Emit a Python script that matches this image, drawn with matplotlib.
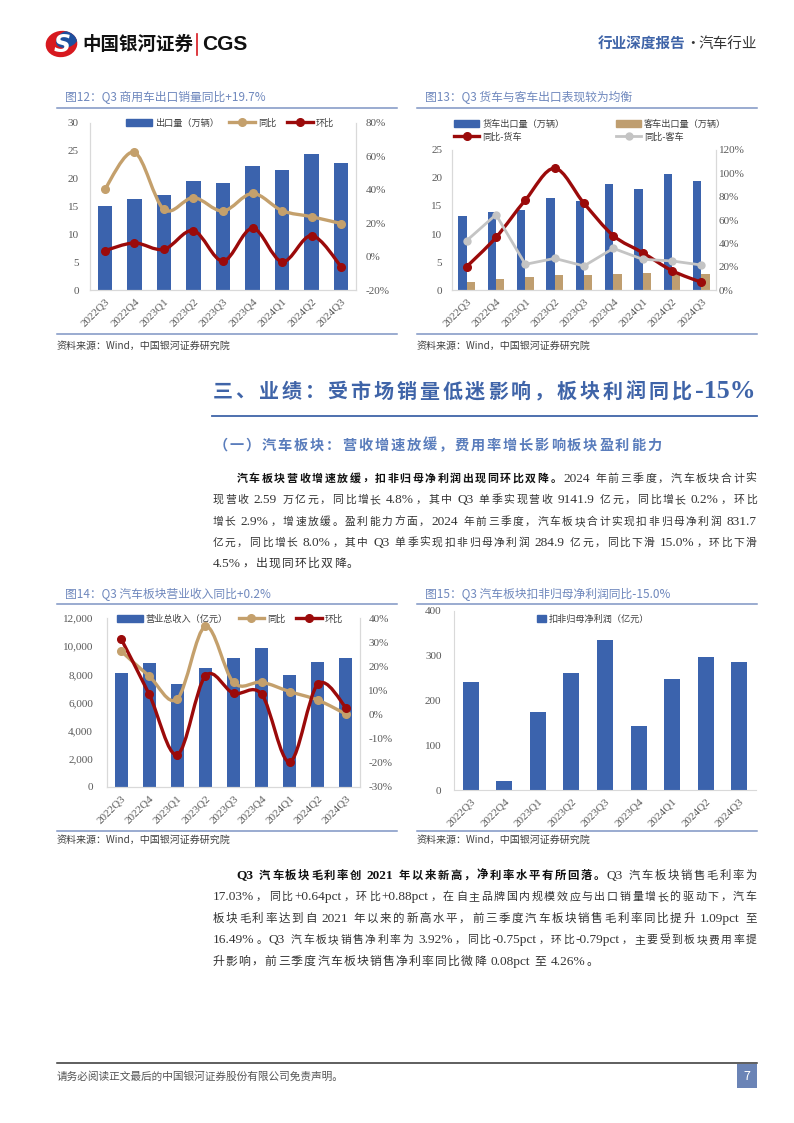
import matplotlib
matplotlib.use('Agg')
import matplotlib.pyplot as plt
from matplotlib.path import Path
from matplotlib.patches import PathPatch, Patch, Rectangle, Ellipse
from matplotlib.lines import Line2D
from matplotlib.ticker import FuncFormatter

plt.rcParams['font.family'] = ['Noto Sans CJK SC', 'DejaVu Sans']

## ---------------------------------------------------------------------------
## Data
## ---------------------------------------------------------------------------
quarters = ['2022Q3', '2022Q4', '2023Q1', '2023Q2', '2023Q3',
            '2023Q4', '2024Q1', '2024Q2', '2024Q3']

# Fig.12 commercial vehicle exports (10k units) and growth (%)
cv_export = [15.0, 16.3, 17.0, 19.6, 19.1, 22.3, 21.6, 24.3, 22.8]
cv_yoy = [40.2, 62.3, 28.2, 35.2, 27.2, 37.7, 27.4, 23.8, 19.7]
cv_qoq = [3.5, 8.1, 4.3, 15.5, -2.7, 16.9, -3.1, 12.5, -6.1]

# Fig.13 truck / bus exports (10k units) and yoy (%)
truck_export = [13.2, 13.9, 14.3, 16.5, 15.9, 19.0, 18.1, 20.7, 19.5]
bus_export = [1.5, 2.0, 2.3, 2.7, 2.7, 2.9, 3.1, 3.0, 2.9]
truck_yoy = [20.0, 45.1, 77.1, 104.3, 74.3, 46.6, 32.0, 16.6, 6.6]
bus_yoy = [42.3, 64.6, 22.0, 27.1, 20.6, 35.7, 26.3, 24.9, 21.4]

# Fig.14 sector revenue (100m yuan) and growth (%)
revenue = [8100, 8780, 7300, 8450, 9140, 9900, 7960, 8884, 9142]
rev_yoy = [26.3, 15.9, 6.5, 36.5, 13.3, 13.4, 9.5, 6.0, 0.2]
rev_qoq = [31.4, 8.4, -16.6, 16.0, 8.8, 8.4, -19.6, 12.6, 2.9]

# Fig.15 net profit attributable, excl. non-recurring (100m yuan)
profit = [241, 19, 175, 261, 336, 143, 249, 298, 285]

## ---------------------------------------------------------------------------
## Styles
## ---------------------------------------------------------------------------
W, H = 794, 1123
BLUE = '#3b63ad'
TAN = '#c4a06c'
TAN_BAR = '#bf9e70'
RED = '#9b0a0a'
GREY_LINE = '#c4c4c4'
TITLE_C = '#6f88bd'
HEAD_C = '#3f64a8'
SUB_C = '#5a7dbc'
TICK_C = '#595959'
SPINE_C = '#d9d9d9'
TEXT_C = '#333333'
NUM_FONT = ['Liberation Serif', 'Noto Sans CJK SC']
PUNCT = '，。：、；）'

fig = plt.figure(figsize=(7.94, 11.23), dpi=100)
fig.patch.set_facecolor('white')
renderer = fig.canvas.get_renderer()


def fx(x):
    return x / W


def fy(y):
    return 1 - y / H


def hline(x0, x1, y, color, lw=1.0):
    fig.add_artist(Line2D([fx(x0), fx(x1)], [fy(y), fy(y)], color=color, lw=lw))


def draw_line(x0, x1, yc, segs, size, justify=True, ascii_scale=1.05):
    """ Lay out a line of mixed CJK / latin text on an em grid, optionally justified """
    em = size * 100 / 72.
    glyph = size * 0.93
    items = []
    for text, weight, color in segs:
        buf = ''
        for ch in text + '\0':
            if ch != '\0' and ch.isascii() and ch != ' ':
                buf += ch
                continue
            if buf:
                t = fig.text(0, 0, buf, fontsize=size * ascii_scale, fontweight=weight,
                             color=color, family=NUM_FONT)
                items.append(['a', t, t.get_window_extent(renderer).width + 0.12 * em])
                buf = ''
            if ch == '\0':
                break
            if ch == ' ':
                items.append(['s', None, 0.2 * em])
            else:
                t = fig.text(0, 0, ch, fontsize=glyph, fontweight=weight, color=color)
                items.append(['p' if ch in PUNCT else 'c', t, em])
    n = len(items)
    total = sum(i[2] for i in items)
    if justify:
        # shrink the CJK cells uniformly when the line would be overfull
        cjk = sum(i[2] for i in items if i[0] in 'cp')
        need = (x1 - x0) - 0.8 * (n - 1)
        if total > need and cjk:
            k = (need - (total - cjk)) / cjk
            for i in items:
                if i[0] in 'cp':
                    i[2] *= k
                    i[1].set_fontsize(glyph * k)
            total = sum(i[2] for i in items)
        gap = (x1 - x0 - total) / (n - 1)
    else:
        gap = 0.3
    base = yc + 0.36 * em
    x = x0
    for kind, t, w in items:
        if t is not None:
            ch = t.get_text()
            if kind == 'a':
                t.set_ha('center'); pos = x + w / 2
            elif kind == 'p':
                t.set_ha('left'); pos = x + 0.03 * em
            elif ch == '（':
                t.set_ha('right'); pos = x + w - 0.03 * em
            else:
                t.set_ha('center'); pos = x + w / 2
            t.set_va('baseline')
            t.set_position((fx(pos), fy(base)))
        x += w + gap


def catmull(xs, ys):
    pts = list(zip(xs, ys))
    n = len(pts)
    verts = [pts[0]]
    codes = [Path.MOVETO]
    for i in range(n - 1):
        p0 = pts[i - 1] if i > 0 else pts[i]
        p1, p2 = pts[i], pts[i + 1]
        p3 = pts[i + 2] if i + 2 < n else pts[i + 1]
        c1 = (p1[0] + (p2[0] - p0[0]) / 6., p1[1] + (p2[1] - p0[1]) / 6.)
        c2 = (p2[0] - (p3[0] - p1[0]) / 6., p2[1] - (p3[1] - p1[1]) / 6.)
        verts += [c1, c2, p2]
        codes += [Path.CURVE4] * 3
    return Path(verts, codes)


def series_line(ax, xs, ys, color, lw=2.4, ms=5.5, smooth=True):
    if smooth:
        ax.add_patch(PathPatch(catmull(xs, ys), fc='none', ec=color, lw=lw,
                               capstyle='round', joinstyle='round', zorder=3))
    else:
        ax.plot(xs, ys, color=color, lw=lw, zorder=3)
    ax.plot(xs, ys, 'o', color=color, ms=ms, zorder=4)
    return Line2D([], [], color=color, lw=lw, marker='o', ms=ms)


def make_axes(box):
    l, r, t, b = box
    return fig.add_axes([fx(l), fy(b), (r - l) / W, (b - t) / H])


def style_axes(ax, lpad):
    for s in ax.spines.values():
        s.set_color(SPINE_C)
        s.set_linewidth(0.8)
    ax.spines['top'].set_visible(False)
    ax.tick_params(length=0, labelsize=8, labelcolor=TICK_C)
    ax.tick_params(axis='y', pad=lpad)
    for lab in ax.get_yticklabels():
        lab.set_family(NUM_FONT)
    ax.set_xlim(-0.5, len(quarters) - 0.5)
    ax.set_xticks(range(len(quarters)))
    ax.set_xticklabels(quarters, rotation=45, ha='right', va='top',
                       rotation_mode='anchor', family=NUM_FONT, fontsize=8,
                       color=TICK_C)
    ax.tick_params(axis='x', pad=5)


def pct_axis(ax, lo, hi, step, rpad):
    ax.set_ylim(lo, hi)
    ax.set_yticks(range(lo, hi + 1, step))
    ax.yaxis.set_major_formatter(FuncFormatter(lambda v, p: '{:.0f}%'.format(v)))
    for s in ax.spines.values():
        s.set_color(SPINE_C)
        s.set_linewidth(0.8)
    ax.spines['top'].set_visible(False)
    ax.tick_params(length=0, labelsize=8, labelcolor=TICK_C, pad=rpad)
    for lab in ax.get_yticklabels():
        lab.set_family(NUM_FONT)


def chart_frame(x0, x1, ty, tly, sly, sy, title):
    fig.text(fx(x0 + 8), fy(ty), title, fontsize=8.5, color=TITLE_C, va='center')
    hline(x0, x1, tly, '#7f95c3', 1.1)
    hline(x0, x1, sly, '#7f95c3', 1.1)
    fig.text(fx(x0), fy(sy), '资料来源：Wind，中国银河证券研究院', fontsize=7.2,
             color='#404040', style='italic', va='center')


def put_legend(ax, handles, labels, cx, cy, ncol, **kw):
    opts = dict(loc='center', bbox_to_anchor=(fx(cx), fy(cy)),
                bbox_transform=fig.transFigure, ncol=ncol, frameon=False,
                prop={'size': 6.6}, handlelength=2.8, handleheight=0.8,
                handletextpad=0.3, columnspacing=1.2, borderpad=0, labelspacing=0.5)
    opts.update(kw)
    leg = ax.legend(handles, labels, **opts)
    for t in leg.get_texts():
        t.set_color('#404040')
    return leg


x = list(range(len(quarters)))

##-------------------------------------------------------------------------
## Header / footer
##-------------------------------------------------------------------------
ax_logo = fig.add_axes([fx(45), fy(58), 33 / W, 28 / H])
ax_logo.set_xlim(-1, 1)
ax_logo.set_ylim(-1, 1)
ax_logo.axis('off')
red_el = Ellipse((0, 0), 1.95, 1.85, angle=35, fc='#d7191f', ec='none')
ax_logo.add_patch(red_el)
blue_el = Ellipse((0.35, 0.35), 1.5, 1.1, angle=35, fc='#1d4f9e', ec='none')
ax_logo.add_patch(blue_el)
blue_el.set_clip_path(red_el)
ax_logo.text(0.02, -0.08, 'S', color='white', fontsize=17, fontweight='bold',
             style='italic', ha='center', va='center', family='DejaVu Sans')

fig.text(fx(82), fy(44), '中国银河证券', fontsize=13.3, fontweight='bold',
         color='#111111', va='center')
fig.add_artist(Line2D([fx(197), fx(197)], [fy(34), fy(55)], color='#d7191f', lw=1.2))
fig.text(fx(202), fy(44.5), 'CGS', fontsize=15, fontweight='bold', color='#111111',
         va='center', family='Liberation Sans')

t_ind = fig.text(fx(757), fy(44), '汽车行业', fontsize=10.5, color='#333333',
                 va='center', ha='right')
w_ind = t_ind.get_window_extent(renderer).width
fig.text(fx(757 - w_ind - 6), fy(44), '·', fontsize=10.5, color='#333333',
         va='center', ha='center')
fig.text(fx(757 - w_ind - 13), fy(44), '行业深度报告', fontsize=10.5, color=HEAD_C,
         fontweight='bold', va='center', ha='right')

hline(57, 757, 1063, '#333333', 1.1)
fig.text(fx(57), fy(1076), '请务必阅读正文最后的中国银河证券股份有限公司免责声明。',
         fontsize=7.7, color='#555555', va='center')
fig.add_artist(Rectangle((fx(737), fy(1088)), 20 / W, 24 / H,
                         transform=fig.transFigure, fc='#6b84b6', ec='none'))
fig.text(fx(747), fy(1076), '7', fontsize=9, color='white', ha='center', va='center')

##-------------------------------------------------------------------------
## Fig.12 commercial vehicle exports
##-------------------------------------------------------------------------
chart_frame(57, 397, 97, 107.5, 334, 346, '图12：Q3 商用车出口销量同比+19.7%')
ax = make_axes((90, 356, 122.7, 290))
ax.bar(x, cv_export, width=0.49, color=BLUE, zorder=2)
ax.set_ylim(0, 30)
ax.set_yticks(range(0, 31, 5))
style_axes(ax, 8)
ax2 = ax.twinx()
pct_axis(ax2, -20, 80, 20, 7)
h_yoy = series_line(ax2, x, cv_yoy, TAN)
h_qoq = series_line(ax2, x, cv_qoq, RED)
put_legend(ax2, [Patch(color=BLUE), h_yoy, h_qoq], ['出口量（万辆）', '同比', '环比'],
           230, 123, 3)

##-------------------------------------------------------------------------
## Fig.13 trucks vs buses
##-------------------------------------------------------------------------
chart_frame(417, 757, 97, 107.5, 334, 346, '图13：Q3 货车与客车出口表现较为均衡')
ax = make_axes((452, 716, 150, 290))
ax.bar([i - 0.145 for i in x], truck_export, width=0.28, color=BLUE, zorder=2)
ax.bar([i + 0.145 for i in x], bus_export, width=0.28, color=TAN_BAR, zorder=2)
ax.set_ylim(0, 25)
ax.set_yticks(range(0, 26, 5))
style_axes(ax, 7)
ax2 = ax.twinx()
pct_axis(ax2, 0, 120, 20, 2)
h_truck = series_line(ax2, x, truck_yoy, RED)
h_bus = series_line(ax2, x, bus_yoy, GREY_LINE, lw=2.0, ms=5, smooth=False)
put_legend(ax2, [Patch(color=BLUE), h_truck, Patch(color=TAN_BAR), h_bus],
           ['货车出口量（万辆）', '同比-货车', '客车出口量（万辆）', '同比-客车'],
           590, 130.5, 2, columnspacing=5.6, labelspacing=0.45)

##-------------------------------------------------------------------------
## Body text, section 3
##-------------------------------------------------------------------------
draw_line(212, 757, 390, [('三、业绩：受市场销量低迷影响，板块利润同比-15%', 'bold', HEAD_C)],
          15.5, ascii_scale=1.2)
hline(212, 757, 416, HEAD_C, 1.3)
draw_line(213, 662, 444, [('（一）汽车板块：营收增速放缓，费用率增长影响板块盈利能力', 'bold', SUB_C)],
          11.5)

para_size = 9.2
para1 = [
    (236, 477, [('汽车板块营收增速放缓，扣非归母净利润出现同环比双降。', 'bold', '#111111'),
                ('2024 年前三季度，汽车板块合计实', 'normal', TEXT_C)], True),
    (212, 498.5, [('现营收 2.59 万亿元，同比增长 4.8%，其中 Q3 单季实现营收 9141.9 亿元，同比增长 0.2%，环比',
                   'normal', TEXT_C)], True),
    (212, 520, [('增长 2.9%，增速放缓。盈利能力方面，2024 年前三季度，汽车板块合计实现扣非归母净利润 831.7',
                 'normal', TEXT_C)], True),
    (212, 541, [('亿元，同比增长 8.0%，其中 Q3 单季实现扣非归母净利润 284.9 亿元，同比下滑 15.0%，环比下滑',
                 'normal', TEXT_C)], True),
    (212, 562, [('4.5%，出现同环比双降。', 'normal', TEXT_C)], False),
]
for x0, yc, segs, just in para1:
    draw_line(x0, 757, yc, segs, para_size, just)

para2 = [
    (236, 874, [('Q3 汽车板块毛利率创 2021 年以来新高，净利率水平有所回落。', 'bold', '#111111'),
                ('Q3 汽车板块销售毛利率为', 'normal', TEXT_C)], True),
    (212, 895.5, [('17.03%，同比+0.64pct，环比+0.88pct，在自主品牌国内规模效应与出口销量增长的驱动下，汽车',
                   'normal', TEXT_C)], True),
    (212, 917, [('板块毛利率达到自 2021 年以来的新高水平，前三季度汽车板块销售毛利率同比提升 1.09pct 至',
                 'normal', TEXT_C)], True),
    (212, 938.5, [('16.49%。Q3 汽车板块销售净利率为 3.92%，同比-0.75pct，环比-0.79pct，主要受到板块费用率提',
                   'normal', TEXT_C)], True),
    (212, 960, [('升影响，前三季度汽车板块销售净利率同比微降 0.08pct 至 4.26%。', 'normal', TEXT_C)], False),
]
for x0, yc, segs, just in para2:
    draw_line(x0, 757, yc, segs, para_size, just)

##-------------------------------------------------------------------------
## Fig.14 sector revenue
##-------------------------------------------------------------------------
chart_frame(57, 397, 594, 603.5, 830.5, 840, '图14：Q3 汽车板块营业收入同比+0.2%')
ax = make_axes((107, 360, 618, 787))
ax.bar(x, revenue, width=0.46, color=BLUE, zorder=2)
ax.set_ylim(0, 12000)
ax.set_yticks(range(0, 12001, 2000))
ax.yaxis.set_major_formatter(FuncFormatter(lambda v, p: '{:,.0f}'.format(v)))
style_axes(ax, 10)
ax2 = ax.twinx()
pct_axis(ax2, -30, 40, 10, 6)
h_yoy = series_line(ax2, x, rev_yoy, TAN)
h_qoq = series_line(ax2, x, rev_qoq, RED)
put_legend(ax2, [Patch(color=BLUE), h_yoy, h_qoq], ['营业总收入（亿元）', '同比', '环比'],
           230, 619, 3)

##-------------------------------------------------------------------------
## Fig.15 net profit
##-------------------------------------------------------------------------
chart_frame(417, 757, 594, 603.5, 830.5, 840, '图15：Q3 汽车板块扣非归母净利润同比-15.0%')
ax = make_axes((454, 756, 611, 790))
ax.bar(x, profit, width=0.48, color=BLUE, zorder=2)
ax.set_ylim(0, 400)
ax.set_yticks(range(0, 401, 100))
style_axes(ax, 9)
ax.spines['right'].set_visible(False)
put_legend(ax, [Patch(color=BLUE)], ['扣非归母净利润（亿元）'], 593, 619, 1,
           handlelength=0.9, handleheight=0.9)

fig.savefig('out.png', dpi=100)
